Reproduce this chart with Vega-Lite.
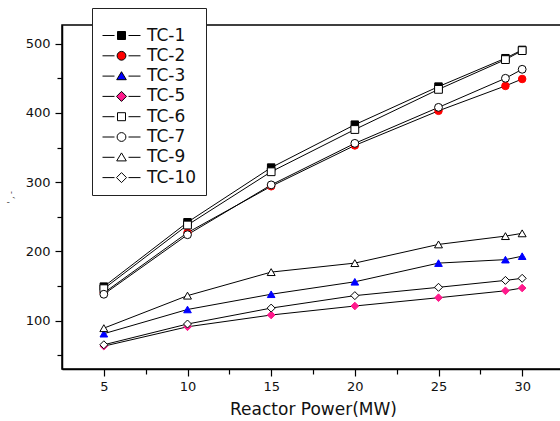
{
  "$schema": "https://vega.github.io/schema/vega-lite/v6.json",
  "width": 502,
  "height": 344,
  "autosize": {"type": "none"},
  "padding": {"left": 62, "top": 25, "right": 0, "bottom": 52},
  "background": "white",
  "config": {
    "view": {"stroke": "black", "strokeWidth": 1.5},
    "font": "DejaVu Sans",
    "axis": {"domainColor": "black", "domainWidth": 1.5, "tickColor": "black", "tickWidth": 1.2, "labelColor": "#111", "titleColor": "#111", "grid": false, "labelFont": "DejaVu Sans", "titleFont": "DejaVu Sans", "titleFontWeight": "normal"}
  },
  "data": {"values": [
    {"series": "TC-1", "power": 5, "temp": 149}, {"series": "TC-1", "power": 10, "temp": 242}, {"series": "TC-1", "power": 15, "temp": 321}, {"series": "TC-1", "power": 20, "temp": 383}, {"series": "TC-1", "power": 25, "temp": 438}, {"series": "TC-1", "power": 29, "temp": 479}, {"series": "TC-1", "power": 30, "temp": 491},
    {"series": "TC-2", "power": 5, "temp": 140}, {"series": "TC-2", "power": 10, "temp": 227}, {"series": "TC-2", "power": 15, "temp": 294}, {"series": "TC-2", "power": 20, "temp": 353}, {"series": "TC-2", "power": 25, "temp": 403}, {"series": "TC-2", "power": 29, "temp": 439}, {"series": "TC-2", "power": 30, "temp": 449},
    {"series": "TC-3", "power": 5, "temp": 81}, {"series": "TC-3", "power": 10, "temp": 116}, {"series": "TC-3", "power": 15, "temp": 138}, {"series": "TC-3", "power": 20, "temp": 156}, {"series": "TC-3", "power": 25, "temp": 183}, {"series": "TC-3", "power": 29, "temp": 188}, {"series": "TC-3", "power": 30, "temp": 193},
    {"series": "TC-5", "power": 5, "temp": 63}, {"series": "TC-5", "power": 10, "temp": 91}, {"series": "TC-5", "power": 15, "temp": 108}, {"series": "TC-5", "power": 20, "temp": 121}, {"series": "TC-5", "power": 25, "temp": 133}, {"series": "TC-5", "power": 29, "temp": 143}, {"series": "TC-5", "power": 30, "temp": 147},
    {"series": "TC-6", "power": 5, "temp": 146}, {"series": "TC-6", "power": 10, "temp": 238}, {"series": "TC-6", "power": 15, "temp": 315}, {"series": "TC-6", "power": 20, "temp": 376}, {"series": "TC-6", "power": 25, "temp": 434}, {"series": "TC-6", "power": 29, "temp": 477}, {"series": "TC-6", "power": 30, "temp": 490},
    {"series": "TC-7", "power": 5, "temp": 138}, {"series": "TC-7", "power": 10, "temp": 224}, {"series": "TC-7", "power": 15, "temp": 296}, {"series": "TC-7", "power": 20, "temp": 356}, {"series": "TC-7", "power": 25, "temp": 408}, {"series": "TC-7", "power": 29, "temp": 450}, {"series": "TC-7", "power": 30, "temp": 463},
    {"series": "TC-9", "power": 5, "temp": 89}, {"series": "TC-9", "power": 10, "temp": 136}, {"series": "TC-9", "power": 15, "temp": 170}, {"series": "TC-9", "power": 20, "temp": 183}, {"series": "TC-9", "power": 25, "temp": 210}, {"series": "TC-9", "power": 29, "temp": 222}, {"series": "TC-9", "power": 30, "temp": 226},
    {"series": "TC-10", "power": 5, "temp": 65}, {"series": "TC-10", "power": 10, "temp": 95}, {"series": "TC-10", "power": 15, "temp": 118}, {"series": "TC-10", "power": 20, "temp": 136}, {"series": "TC-10", "power": 25, "temp": 148}, {"series": "TC-10", "power": 29, "temp": 158}, {"series": "TC-10", "power": 30, "temp": 161}
  ]},
  "encoding": {
    "x": {"field": "power", "type": "quantitative",
      "scale": {"domain": [2.5, 32.5], "nice": false, "zero": false},
      "axis": {"title": "Reactor Power(MW)", "titleFontSize": 17, "titlePadding": 8,
        "values": [5, 7.5, 10, 12.5, 15, 17.5, 20, 22.5, 25, 27.5, 30],
        "labelExpr": "datum.value % 5 === 0 ? datum.label : ''",
        "labelFontSize": 13, "labelPadding": 4, "labelFlush": false, "labelOverlap": false,
        "tickSize": {"condition": {"test": "datum.value % 5 === 0", "value": 7}, "value": 5}}},
    "y": {"field": "temp", "type": "quantitative",
      "scale": {"domain": [30, 527], "nice": false, "zero": false},
      "axis": {"title": "' , -", "titleFontSize": 8, "titlePadding": 10, "titleColor": "#333",
        "values": [50, 100, 150, 200, 250, 300, 350, 400, 450, 500],
        "labelExpr": "datum.value % 100 === 0 ? datum.label : ''",
        "labelFontSize": 13, "labelPadding": 5, "labelFlush": false, "labelOverlap": false,
        "tickSize": {"condition": {"test": "datum.value % 100 === 0", "value": 7}, "value": 5}}}
  },
  "layer": [
    {"mark": {"type": "line", "color": "black", "strokeWidth": 1},
     "encoding": {"detail": {"field": "series", "type": "nominal"}}},
    {"mark": {"type": "point", "filled": true, "strokeWidth": 1, "opacity": 1},
     "encoding": {
       "shape": {"field": "series", "type": "nominal", "legend": null,
         "scale": {"domain": ["TC-1", "TC-2", "TC-3", "TC-5", "TC-6", "TC-7", "TC-9", "TC-10"],
           "range": ["square", "circle", "triangle-up", "diamond", "square", "circle", "triangle-up", "diamond"]}},
       "fill": {"field": "series", "type": "nominal", "legend": null,
         "scale": {"domain": ["TC-1", "TC-2", "TC-3", "TC-5", "TC-6", "TC-7", "TC-9", "TC-10"],
           "range": ["black", "#ff0000", "#0000ff", "#ff1a8c", "white", "white", "white", "white"]}},
       "stroke": {"field": "series", "type": "nominal", "legend": null,
         "scale": {"domain": ["TC-1", "TC-2", "TC-3", "TC-5", "TC-6", "TC-7", "TC-9", "TC-10"],
           "range": ["black", "#ff0000", "#0000ff", "#ff1a8c", "black", "black", "black", "black"]}},
       "size": {"field": "series", "type": "nominal", "legend": null,
         "scale": {"domain": ["TC-1", "TC-2", "TC-3", "TC-5", "TC-6", "TC-7", "TC-9", "TC-10"],
           "range": [56, 64, 80, 100, 56, 64, 80, 100]}}
     }},
    {"mark": {"type": "point", "filled": true, "strokeWidth": 1, "opacity": 0},
     "encoding": {
       "shape": {"field": "series", "type": "nominal",
         "scale": {"domain": ["TC-1", "TC-2", "TC-3", "TC-5", "TC-6", "TC-7", "TC-9", "TC-10"],
           "range": [
             "M-4.75,0H-1.75M1.75,0H4.75M-1,-1H1V1H-1Z",
             "M-4.75,0H-1.75M1.75,0H4.75M1.1,0A1.1,1.1,0,1,1,-1.1,0A1.1,1.1,0,1,1,1.1,0Z",
             "M-4.75,0H-1.75M1.75,0H4.75M0,-1.1L1.2,0.9H-1.2Z",
             "M-4.75,0H-1.75M1.75,0H4.75M0,-1.25L1.25,0L0,1.25L-1.25,0Z",
             "M-4.75,0H-1.75M1.75,0H4.75M-1,-1H1V1H-1Z",
             "M-4.75,0H-1.75M1.75,0H4.75M1.1,0A1.1,1.1,0,1,1,-1.1,0A1.1,1.1,0,1,1,1.1,0Z",
             "M-4.75,0H-1.75M1.75,0H4.75M0,-1.1L1.2,0.9H-1.2Z",
             "M-4.75,0H-1.75M1.75,0H4.75M0,-1.25L1.25,0L0,1.25L-1.25,0Z"
           ]},
         "legend": {"title": " ", "titleFontSize": 8, "titlePadding": 2, "orient": "none", "legendX": 30, "legendY": -17,
           "padding": 9, "strokeColor": "#222", "fillColor": "white", "cornerRadius": 0,
           "symbolSize": 64, "symbolStrokeWidth": 1, "symbolOpacity": 1,
           "labelFont": "DejaVu Sans", "labelFontSize": 17, "labelColor": "#111",
           "labelOffset": 17, "rowPadding": 2.3, "symbolOffset": 12}},
       "fill": {"field": "series", "type": "nominal",
         "scale": {"domain": ["TC-1", "TC-2", "TC-3", "TC-5", "TC-6", "TC-7", "TC-9", "TC-10"],
           "range": ["black", "#ff0000", "#0000ff", "#ff1a8c", "white", "white", "white", "white"]}},
       "stroke": {"field": "series", "type": "nominal",
         "scale": {"domain": ["TC-1", "TC-2", "TC-3", "TC-5", "TC-6", "TC-7", "TC-9", "TC-10"],
           "range": ["black", "black", "black", "black", "black", "black", "black", "black"]}}
     }}
  ],
  "resolve": {"scale": {"shape": "independent", "fill": "independent", "stroke": "independent", "size": "independent"}}
}
